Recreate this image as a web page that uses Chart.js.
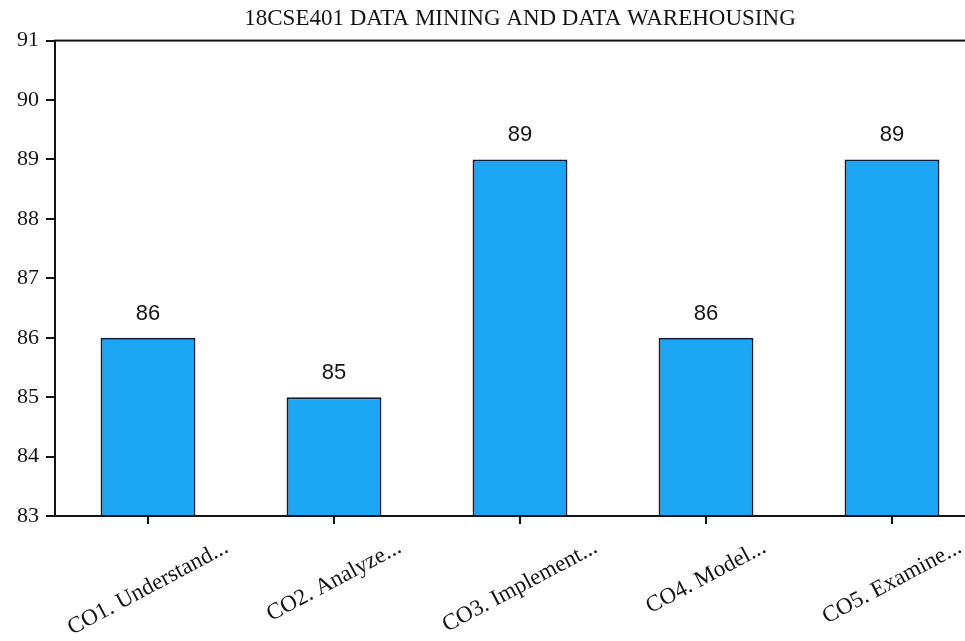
<!DOCTYPE html>
<html><head><meta charset="utf-8">
<script src="https://cdn.jsdelivr.net/npm/chart.js@4"></script>
<style>html,body{margin:0;padding:0;background:#fff;overflow:hidden;width:965px;height:641px}
#wrap{position:absolute;left:0;top:0;width:1000px;height:641px}</style>
</head><body><div id="wrap"><canvas id="c" width="1000" height="641"></canvas></div>
<script>
const chartTitle = '18CSE401 DATA MINING AND DATA WAREHOUSING';
const categories = ['CO1. Understand...', 'CO2. Analyze...', 'CO3. Implement...', 'CO4. Model...', 'CO5. Examine...'];
const values = [86, 85, 89, 86, 89];
const yMin = 83, yMax = 91, yStep = 1;

const serif = '"Liberation Serif", "Times New Roman", serif';
const sans = '"Liberation Sans", Arial, sans-serif';
const ink = '#141414';

const framePlugin = {
  id: 'frame',
  afterDatasetsDraw(chart) {
    const { ctx, chartArea: a } = chart;
    ctx.save();
    ctx.strokeStyle = ink; ctx.lineWidth = 2;
    ctx.strokeRect(a.left, a.top, a.right - a.left, a.bottom - a.top);
    ctx.restore();
  }
};

const valueLabels = {
  id: 'valueLabels',
  afterDatasetsDraw(chart) {
    const { ctx } = chart;
    const meta = chart.getDatasetMeta(0);
    ctx.save();
    ctx.font = '22px ' + sans;
    ctx.fillStyle = ink;
    ctx.textAlign = 'center';
    ctx.textBaseline = 'alphabetic';
    meta.data.forEach((bar, i) => {
      ctx.fillText(String(values[i]), bar.x, bar.y - 18);
    });
    ctx.restore();
  }
};

const xLabels = {
  id: 'xLabels',
  afterDraw(chart) {
    const { ctx, chartArea: a } = chart;
    const sc = chart.scales.x;
    const th = 28 * Math.PI / 180;
    ctx.save();
    ctx.font = '23px ' + serif;
    ctx.fillStyle = ink;
    ctx.textAlign = 'center';
    ctx.textBaseline = 'middle';
    categories.forEach((lab, i) => {
      const x = sc.getPixelForTick(i);
      const L = ctx.measureText(lab).width;
      const cy = a.bottom + 23 + (L / 2) * Math.sin(th) + 8 * Math.cos(th);
      ctx.save();
      ctx.translate(x, cy);
      ctx.rotate(-th);
      ctx.fillText(lab, 0, 0);
      ctx.restore();
    });
    ctx.restore();
  }
};

new Chart(document.getElementById('c'), {
  type: 'bar',
  data: {
    labels: categories,
    datasets: [{
      data: values,
      backgroundColor: '#1ca5f2',
      borderColor: '#0f1e38',
      borderWidth: 2,
      borderSkipped: false,
      barPercentage: 0.51,
      categoryPercentage: 1.0
    }]
  },
  options: {
    responsive: false,
    animation: false,
    layout: { padding: { left: 0, right: 15, top: 0, bottom: 0 } },
    plugins: {
      legend: { display: false },
      tooltip: { enabled: false },
      title: {
        display: true,
        text: chartTitle,
        fullSize: false,
        color: ink,
        font: { family: serif, size: 23, weight: 'normal' },
        padding: { top: 5, bottom: 8 }
      }
    },
    scales: {
      x: {
        grid: { offset: false, drawOnChartArea: false, drawTicks: true, tickLength: 8, color: ink, lineWidth: 2 },
        border: { display: true, color: ink, width: 2 },
        ticks: { display: false },
        afterFit(scale) { scale.height = 125; }
      },
      y: {
        min: yMin, max: yMax,
        grid: { drawOnChartArea: false, drawTicks: true, tickLength: 9, color: ink, lineWidth: 2 },
        border: { display: true, color: ink, width: 2 },
        ticks: { stepSize: yStep, color: ink, padding: 7, font: { family: serif, size: 22 } },
        afterFit(scale) { scale.width = 55; }
      }
    }
  },
  plugins: [framePlugin, valueLabels, xLabels]
});
</script>
</body></html>
